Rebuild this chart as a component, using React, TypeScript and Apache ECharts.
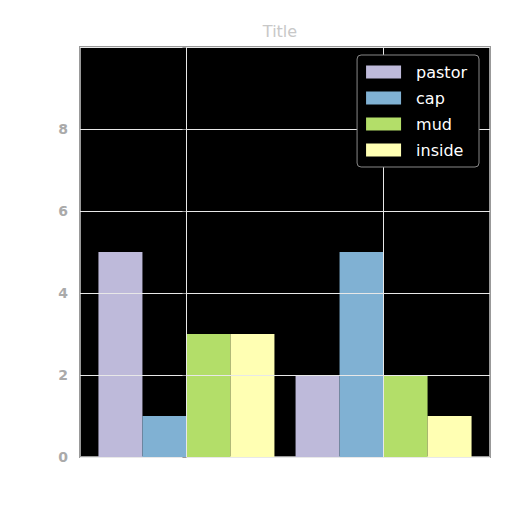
import React, { useEffect, useRef } from "react";
import * as echarts from "echarts";

const groupX = [0, 1];
const seriesNames = ["pastor", "cap", "mud", "inside"];
const pastor = [5, 2];
const cap = [1, 5];
const mud = [3, 2];
const inside = [3, 1];
const colors = ["#bebada", "#80b1d3", "#b3de69", "#ffffb3"];
const yTicks = [0, 2, 4, 6, 8];

export default function App() {
  const ref = useRef<HTMLDivElement>(null);
  useEffect(() => {
    const chart = echarts.init(ref.current!, null, { renderer: "svg" });
    const values = [pastor, cap, mud, inside];
    const series: any[] = seriesNames.map((name, i) => ({
      name,
      type: "bar",
      data: groupX.map((x, j) => [x, values[i][j]]),
      barWidth: 44,
      barGap: "0%",
      itemStyle: { color: colors[i] },
      z: 2,
    }));
    series.push({
      name: "grid",
      type: "line",
      data: [],
      silent: true,
      z: 5,
      markLine: {
        silent: true,
        symbol: "none",
        label: { show: false },
        lineStyle: { color: "#e8e8e8", type: "solid", width: 1 },
        data: groupX.map((x) => ({ xAxis: x })),
      },
    });
    chart.setOption({
      animation: false,
      title: {
        text: "Title",
        left: 275,
        top: 18,
        textAlign: "center",
        textStyle: { color: "#c8c8c8", fontSize: 16, fontWeight: "normal", fontFamily: "DejaVu Sans" },
      },
      legend: {
        orient: "vertical",
        right: 33,
        top: 55,
        icon: "rect",
        itemWidth: 35,
        itemHeight: 13,
        itemGap: 10,
        padding: [9, 12, 9, 9],
        backgroundColor: "#000",
        borderColor: "#888",
        borderWidth: 1,
        borderRadius: 4,
        z: 10,
        textStyle: { color: "#ffffff", fontSize: 16, fontFamily: "DejaVu Sans", padding: [0, 0, 0, 10] },
        data: seriesNames,
      },
      grid: {
        left: 80,
        right: 22,
        top: 47,
        bottom: 55,
        show: true,
        backgroundColor: "#000000",
        borderColor: "#999999",
        borderWidth: 2,
      },
      xAxis: {
        type: "value",
        min: -0.54,
        max: 1.54,
        axisLabel: { show: false },
        axisTick: { show: false },
        axisLine: { show: false },
        splitLine: { show: false },
      },
      yAxis: {
        type: "value",
        min: 0,
        max: 10,
        interval: 2,
        z: 4,
        axisLabel: {
          color: "#aaaaaa",
          fontSize: 14,
          fontWeight: "bold",
          fontFamily: "DejaVu Sans",
          margin: 12,
          formatter: (v: number) => (yTicks.includes(v) ? String(v) : ""),
        },
        axisTick: { show: true, length: 4, lineStyle: { color: "#999" } },
        axisLine: { show: false },
        splitLine: { show: true, lineStyle: { color: "#e8e8e8", width: 1 } },
      },
      series,
    });
    return () => chart.dispose();
  }, []);
  return <div ref={ref} style={{ width: 512, height: 512, margin: -8 }} />;
}
